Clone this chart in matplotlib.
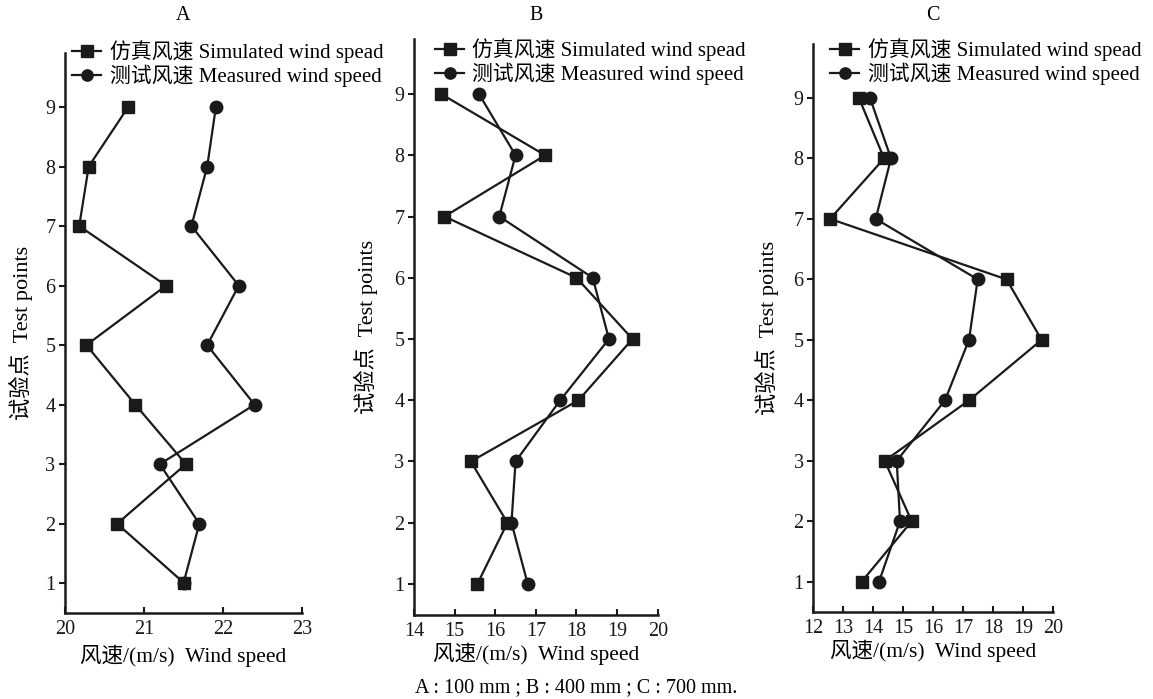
import matplotlib
matplotlib.use("Agg")
import matplotlib.pyplot as plt

plt.rcParams['font.family'] = ['Liberation Serif', 'Noto Sans CJK SC', 'DejaVu Sans']

# Test points 1..9
points = [1, 2, 3, 4, 5, 6, 7, 8, 9]

# A: 100 mm
sim_a = [21.51, 20.66, 21.53, 20.89, 20.27, 21.28, 20.18, 20.3, 20.8]
mea_a = [21.5, 21.7, 21.2, 22.4, 21.8, 22.2, 21.6, 21.8, 21.91]
# B: 400 mm
sim_b = [15.56, 16.3, 15.4, 18.05, 19.38, 18.0, 14.75, 17.23, 14.67]
mea_b = [16.8, 16.4, 16.5, 17.6, 18.8, 18.4, 16.1, 16.5, 15.6]
# C: 700 mm
sim_c = [13.61, 15.28, 14.38, 17.19, 19.61, 18.44, 12.56, 14.36, 13.52]
mea_c = [14.19, 14.89, 14.78, 16.39, 17.19, 17.48, 14.08, 14.59, 13.89]

panels = ["A", "B", "C"]
xticks_list = [[20, 21, 22, 23], [14, 15, 16, 17, 18, 19, 20], [12, 13, 14, 15, 16, 17, 18, 19, 20]]
sim_label = "仿真风速 Simulated wind spead"
mea_label = "测试风速 Measured wind speed"
xlabel = "风速/(m/s)  Wind speed"
ylabel = "试验点  Test points"
caption = "A : 100 mm ; B : 400 mm ; C : 700 mm."

W, H = 1153, 699
fig = plt.figure(figsize=(W / 100, H / 100), dpi=100)

# axes boxes in pixels: left, right, bottom, top
boxes = [(65, 302, 613, 53.4), (414, 657.7, 614.6, 38.9), (813.3, 1053.3, 612, 43.5)]
legend_xy = [(72, 40), (435, 38), (830, 38)]
ylabel_x = [33, 378, 779]
xlabel_pad = [4, 1.5, 1.5]

for i, (sim, mea) in enumerate([(sim_a, mea_a), (sim_b, mea_b), (sim_c, mea_c)]):
    l, r, b, t = boxes[i]
    ax = fig.add_axes([l / W, 1 - b / H, (r - l) / W, (b - t) / H])
    ax.plot(sim, points, color='#1a1a1a', lw=1.6, marker='s', ms=9, label=sim_label)
    ax.plot(mea, points, color='#1a1a1a', lw=1.6, marker='o', ms=9, label=mea_label)
    ax.set_xlim(xticks_list[i][0], xticks_list[i][-1])
    ax.set_ylim(0.5, 9.9)
    ax.set_xticks(xticks_list[i])
    ax.set_yticks(points)
    ax.spines['top'].set_visible(False)
    ax.spines['right'].set_visible(False)
    for s in ['left', 'bottom']:
        ax.spines[s].set_linewidth(1.8)
        ax.spines[s].set_color('#1a1a1a')
    ax.tick_params(length=4, width=1.5, labelsize=14.5, colors='#1a1a1a')
    ax.tick_params(axis='x', direction='in', pad=5)
    ax.tick_params(axis='y', direction='out', pad=3)
    ax.set_xlabel(xlabel, fontsize=15.5, labelpad=xlabel_pad[i])
    ax.set_ylabel(ylabel, fontsize=16)
    ax.yaxis.set_label_coords(ylabel_x[i] / W, 1 - (b + t) / 2 / H, transform=fig.transFigure)
    fig.text((l + r) / 2 / W, 1 - 16 / H, panels[i], ha='center', va='center', fontsize=14.5)
    lx, ly = legend_xy[i]
    ax.legend(loc='upper left', bbox_to_anchor=(lx / W, 1 - ly / H), bbox_transform=fig.transFigure,
              frameon=False, fontsize=15, borderpad=0, borderaxespad=0, handlelength=1.4,
              handletextpad=0.4, labelspacing=0.1, markerscale=0.9)

fig.text(576 / W, 1 - 688 / H, caption, ha='center', va='center', fontsize=14.5)

fig.savefig("out.png", dpi=100)
